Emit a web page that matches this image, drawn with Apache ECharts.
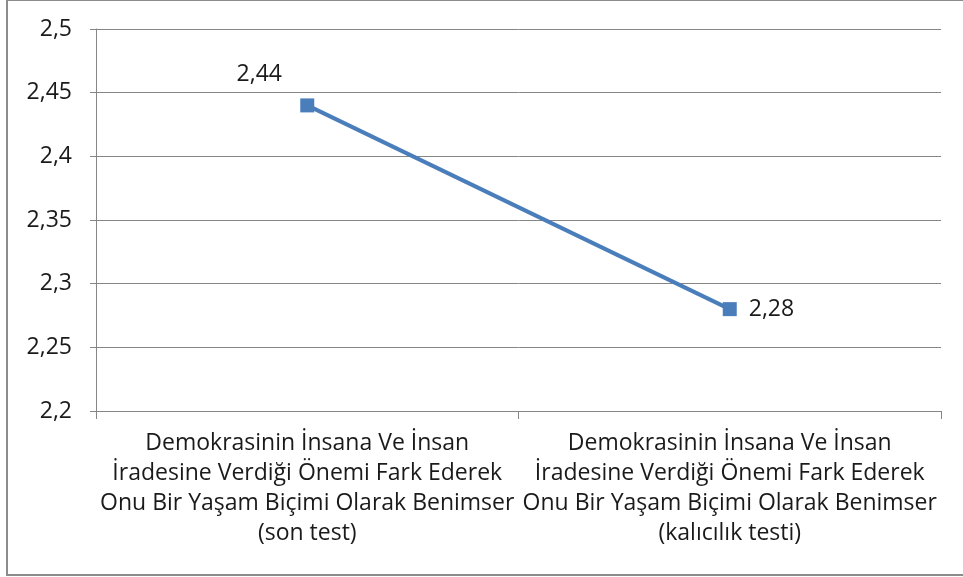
<!DOCTYPE html>
<html>
<head>
<meta charset="utf-8">
<script src="https://cdn.jsdelivr.net/npm/echarts@6/dist/echarts.min.js"></script>
<style>
  html, body { margin: 0; padding: 0; background: #fff; }
  #chart { width: 963px; height: 577px; }
</style>
</head>
<body>
<div id="chart"></div>
<script>
// kategoriler (x ekseni)
const categories = [
  "Demokrasinin İnsana Ve İnsan\nİradesine Verdiği Önemi Fark Ederek\nOnu Bir Yaşam Biçimi Olarak Benimser\n(son test)",
  "Demokrasinin İnsana Ve İnsan\nİradesine Verdiği Önemi Fark Ederek\nOnu Bir Yaşam Biçimi Olarak Benimser\n(kalıcılık testi)",
];
const means = [2.44, 2.28];
const yMin = 2.2;
const yMax = 2.5;
const yStep = 0.05;

const fmt = (v) => String(+v.toFixed(2)).replace(".", ",");
const font = "'Open Sans', sans-serif";

const chart = echarts.init(document.getElementById("chart"));
chart.setOption({
  animation: false,
  grid: { left: 96, right: 22, top: 29, bottom: 166 },
  graphic: [
    {
      type: "rect",
      shape: { x: 7, y: 0, width: 970, height: 575 },
      style: { fill: "none", stroke: "#8c8c8c", lineWidth: 2 },
      silent: true,
    },
  ],
  xAxis: {
    type: "category",
    data: categories,
    boundaryGap: true,
    axisLine: { lineStyle: { color: "#868686", width: 1 } },
    axisTick: { show: true, length: 8, lineStyle: { color: "#868686" } },
    axisLabel: {
      color: "#1a1a1a",
      fontFamily: font,
      fontSize: 23,
      lineHeight: 30,
      margin: 17,
      interval: 0,
      align: "center",
    },
  },
  yAxis: {
    type: "value",
    min: yMin,
    max: yMax,
    interval: yStep,
    axisLine: { show: true, lineStyle: { color: "#868686" } },
    axisTick: { show: true, length: 6, lineStyle: { color: "#868686" } },
    splitLine: { lineStyle: { color: "#868686", width: 1 } },
    axisLabel: {
      color: "#1a1a1a",
      fontFamily: font,
      fontSize: 23,
      margin: 24,
      formatter: fmt,
    },
  },
  series: [
    {
      type: "line",
      data: [
        { value: means[0], label: { position: "top", offset: [-48, -7] } },
        { value: means[1], label: { position: "right", distance: 12 } },
      ],
      symbol: "rect",
      symbolSize: 14,
      lineStyle: { color: "#4A7EBB", width: 4 },
      itemStyle: { color: "#4A7EBB" },
      label: {
        show: true,
        color: "#1a1a1a",
        fontFamily: font,
        fontSize: 23,
        formatter: (p) => fmt(p.value),
      },
    },
  ],
});
</script>
</body>
</html>
